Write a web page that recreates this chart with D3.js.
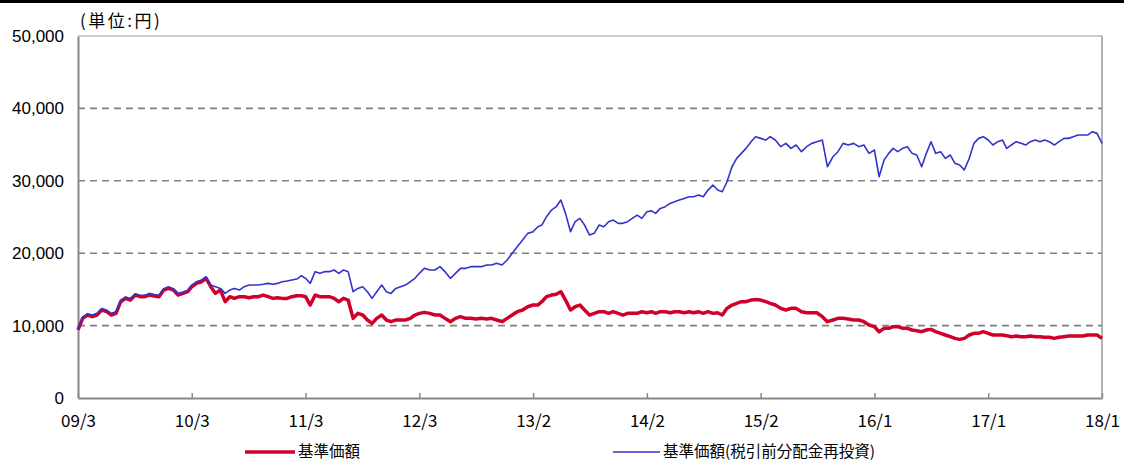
<!DOCTYPE html>
<html>
<head>
<meta charset="utf-8">
<script src="https://cdn.jsdelivr.net/npm/d3@7"></script>
<style>
  body { margin: 0; background: #fff; }
  svg text { fill: #000; }
</style>
</head>
<body>
<svg id="chart" width="1124" height="461"></svg>
<script>
// tick labels and the month each one sits on (ticks are evenly spaced)
var tickLabels = ['09/3', '10/3', '11/3', '12/3', '13/2', '14/2', '15/2', '16/1', '17/1', '18/1']
var tickMonths = ['2009-03-01', '2010-03-01', '2011-03-01', '2012-03-01', '2013-02-01', '2014-02-01', '2015-02-01', '2016-01-01', '2017-01-01', '2018-01-01']
var yTicks = [0, 10000, 20000, 30000, 40000, 50000]

// half-month points (1st and 16th), 2009-03-01 .. 2018-01-01
var dates = []
for (var yr = 2009; yr <= 2018; yr++) {
  for (var mo = 1; mo <= 12; mo++) {
    var ym = yr + '-' + (mo < 10 ? '0' + mo : mo)
    if (ym >= '2009-03' && ym <= '2017-12') dates.push(ym + '-01', ym + '-16')
  }
}
dates.push('2018-01-01')

// 基準価額
var navValues = [
  9400, 11000, 11460, 11230, 11460, 12150, 11920, 11460, 11690, 13300, 13770, 13530,
  14220, 13990, 13990, 14220, 14100, 13990, 14910, 15140, 14910, 14220, 14450, 14680,
  15370, 15830, 16060, 16530, 15370, 14450, 14910, 13300, 13990, 13760, 13990, 13990,
  13850, 13990, 13990, 14220, 13990, 13760, 13850, 13760, 13760, 13990, 14130, 14130,
  13990, 12840, 14220, 13990, 13990, 13990, 13760, 13300, 13760, 13530, 11000, 11690,
  11460, 10770, 10310, 11000, 11460, 10770, 10540, 10770, 10770, 10770, 11000, 11460,
  11690, 11830, 11690, 11460, 11460, 11000, 10540, 11000, 11230, 11000, 11000, 10910,
  11000, 10910, 11000, 10770, 10540, 11000, 11460, 11920, 12150, 12610,
  12840, 12840, 13300, 13990, 14220, 14320, 14680, 13530, 12150, 12610, 12840, 12150,
  11460, 11690, 11920, 11920, 11690, 11920, 11690, 11460, 11690, 11690, 11690, 11920,
  11780, 11920, 11690, 11920, 11920, 11780, 11920, 11920, 11780, 11920, 11780, 11920,
  11690, 11920, 11690, 11780, 11460, 12380, 12840, 13070, 13300, 13300, 13530, 13600,
  13530, 13300, 13070, 12840, 12380, 12150, 12380, 12380, 11920, 11780, 11780, 11780,
  11230, 10540, 10770, 11000, 11000, 10910, 10770, 10770, 10540, 10080,
  9850, 9160, 9620, 9620, 9850, 9850, 9620, 9620, 9390, 9300, 9160, 9390,
  9480, 9160, 8930, 8700, 8470, 8240, 8100, 8240, 8700, 8930, 8930, 9160,
  8930, 8700, 8700, 8700, 8610, 8470, 8560, 8470, 8470, 8560, 8470, 8470,
  8380, 8380, 8240, 8380, 8470, 8560, 8560, 8560, 8560, 8700, 8700, 8700,
  8240
]
// 基準価額(税引前分配金再投資)
var reinvValues = [
  9600, 11200, 11650, 11450, 11700, 12350, 12150, 11700, 11900, 13500, 13950, 13750,
  14400, 14200, 14200, 14450, 14300, 14200, 15100, 15350, 15100, 14450, 14650, 14900,
  15600, 16050, 16300, 16750, 15600, 15370, 15140, 14450, 14910, 15140, 14910, 15370,
  15600, 15600, 15600, 15700, 15830, 15700, 15830, 16060, 16160, 16290, 16430, 16890,
  16530, 15830, 17450, 17220, 17450, 17450, 17680, 17220, 17680, 17450, 14680, 15140,
  15370, 14680, 13760, 14680, 15600, 14680, 14450, 15140, 15370, 15600, 16060, 16530,
  17220, 17910, 17680, 17680, 18140, 17450, 16530, 17220, 17910, 17910, 18140, 18140,
  18140, 18370, 18370, 18600, 18370, 19060, 19980, 20900, 21820, 22740,
  22970, 23660, 23890, 25040, 25960, 26420, 27340, 25500, 22970, 24350, 24810, 23890,
  22510, 22740, 23890, 23660, 24350, 24580, 24120, 24120, 24350, 24810, 25270, 24810,
  25730, 25850, 25500, 26190, 26420, 26880, 27110, 27340, 27570, 27800, 27800, 28030,
  27800, 28720, 29410, 28720, 28490, 29870, 31940, 33100, 33790, 34480, 35400, 36090,
  35860, 35630, 36090, 35630, 34710, 35170, 34480, 34940, 34020, 34710, 35170, 35400,
  35630, 31940, 33320, 34020, 35170, 34940, 35170, 34710, 34940, 33790,
  34250, 30560, 32870, 33790, 34480, 34020, 34480, 34710, 33790, 33560, 31940, 33790,
  35400, 33790, 34020, 33100, 33560, 32410, 32180, 31490, 33100, 35170, 35860, 36090,
  35630, 34940, 35400, 35630, 34480, 34940, 35400, 35170, 34940, 35400, 35630, 35400,
  35630, 35400, 34940, 35400, 35860, 35860, 36090, 36320, 36320, 36320, 36780, 36550,
  35170
]

var seriesNames = ['基準価額', '基準価額(税引前分配金再投資)']
var seriesColors = ['#d0002a', '#3333cc']

var parseDate = d3.timeParse('%Y-%m-%d')
var svg = d3.select('#chart')
var plotLeft = 78, plotRight = 1102, plotTop = 36, plotBottom = 398

// piecewise time scale: each labelled month lands on an evenly spaced tick
var x = d3.scaleTime()
  .domain(tickMonths.map(parseDate))
  .range(tickMonths.map(function(d, i) { return plotLeft + (plotRight - plotLeft) * i / (tickMonths.length - 1) }))
var y = d3.scaleLinear().domain([0, 50000]).range([plotBottom, plotTop])

// black rule across the very top
svg.append('rect').attr('x', 0).attr('y', 0).attr('width', 1124).attr('height', 3).attr('fill', '#000')

// dashed grid
svg.append('g').selectAll('line')
  .data(yTicks.filter(function(d) { return d > 0 && d < 50000 }))
  .join('line')
  .attr('x1', plotLeft).attr('x2', plotRight)
  .attr('y1', function(d) { return y(d) }).attr('y2', function(d) { return y(d) })
  .attr('stroke', '#808080').attr('stroke-width', 1.6).attr('stroke-dasharray', '7,5')

// frame
svg.append('line').attr('x1', plotLeft).attr('x2', plotRight).attr('y1', plotTop).attr('y2', plotTop)
  .attr('stroke', '#999').attr('stroke-width', 1)
svg.append('line').attr('x1', plotRight).attr('x2', plotRight).attr('y1', plotTop).attr('y2', plotBottom)
  .attr('stroke', '#999').attr('stroke-width', 1.5)

// y axis
var yAxis = svg.append('g').attr('transform', 'translate(' + plotLeft + ',0)')
  .call(d3.axisLeft(y).tickValues(yTicks).tickSize(0).tickPadding(14).tickFormat(d3.format(',')))
yAxis.select('.domain').attr('stroke', '#888').attr('stroke-width', 2)
yAxis.selectAll('text').style('font-family', '"Liberation Sans", Arial, sans-serif').style('font-size', '17px')

// x axis, ticks pointing up
var xAxis = svg.append('g').attr('transform', 'translate(0,' + plotBottom + ')')
  .call(d3.axisBottom(x).tickValues(tickMonths.map(parseDate)).tickSizeInner(-5).tickSizeOuter(0).tickPadding(17)
    .tickFormat(function(d, i) { return tickLabels[i] }))
xAxis.select('.domain').attr('stroke', '#888').attr('stroke-width', 2)
xAxis.selectAll('.tick line').attr('stroke', '#888').attr('stroke-width', 1.5)
xAxis.selectAll('text').style('font-family', '"Noto Sans CJK JP", sans-serif').style('font-size', '17px')

// lines
var line = d3.line()
  .x(function(d, i) { return x(parseDate(dates[i])) })
  .y(function(d) { return y(d) })

svg.append('path').datum(navValues).attr('d', line)
  .attr('fill', 'none').attr('stroke', seriesColors[0]).attr('stroke-width', 3.5).attr('stroke-linejoin', 'round')
svg.append('path').datum(reinvValues).attr('d', line)
  .attr('fill', 'none').attr('stroke', seriesColors[1]).attr('stroke-width', 1.6).attr('stroke-linejoin', 'round')

// unit label
svg.append('text').attr('x', 80).attr('y', 27)
  .style('font-family', '"Noto Sans CJK JP", sans-serif').style('font-size', '17px').style('letter-spacing', '2.5px')
  .text('(単位:円)')

// legend
var legendX = [245, 613]
var legend = svg.append('g').selectAll('g').data(seriesNames).join('g')
  .attr('transform', function(d, i) { return 'translate(' + legendX[i] + ',452)' })
legend.append('line').attr('x1', 0).attr('x2', function(d, i) { return i === 0 ? 50 : 47 })
  .attr('stroke', function(d, i) { return seriesColors[i] })
  .attr('stroke-width', function(d, i) { return i === 0 ? 3.5 : 1.6 })
legend.append('text').attr('x', function(d, i) { return i === 0 ? 53 : 50 }).attr('dy', '0.3em')
  .style('font-family', '"Noto Sans CJK JP", sans-serif').style('font-size', '15.5px')
  .text(function(d) { return d })
</script>
</body>
</html>
